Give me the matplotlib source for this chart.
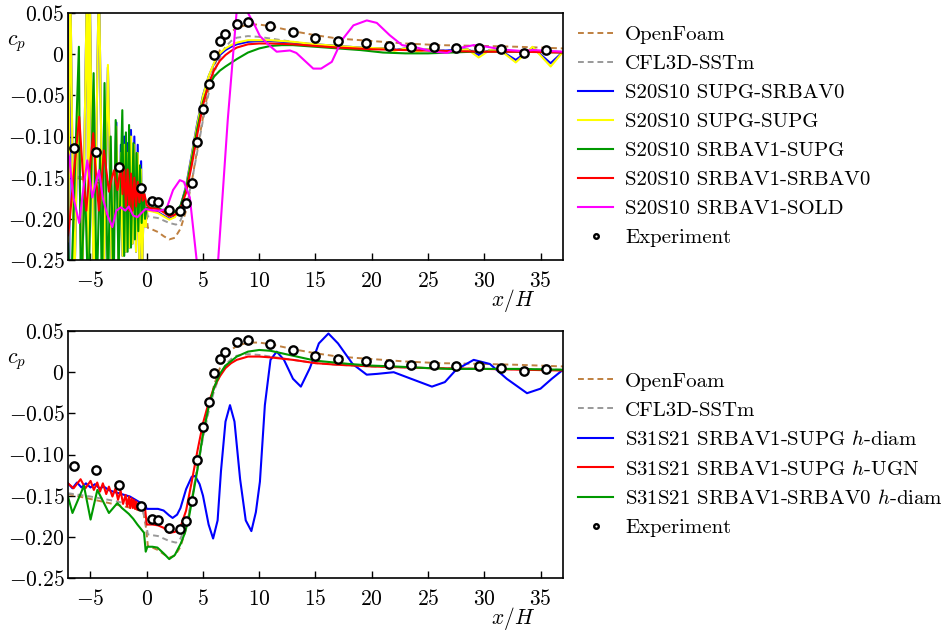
import numpy as np
import matplotlib
matplotlib.use('Agg')
import matplotlib.pyplot as plt

# pressure coefficient along the hump, x/H

# experiment (both panels)
exp_x = [-6.5, -4.5, -2.5, -0.5, 0.5, 1.0, 2.0, 3.0, 3.5, 4.0, 4.5, 5.0, 5.5, 6.0, 6.5, 7.0,
         8.0, 9.0, 11.0, 13.0, 15.0, 17.0, 19.5, 21.5, 23.5, 25.5, 27.5, 29.5, 31.5, 33.5, 35.5]
exp_cp = [-0.114, -0.119, -0.137, -0.162, -0.178, -0.180, -0.189, -0.191, -0.181, -0.157, -0.107,
          -0.066, -0.036, -0.001, 0.016, 0.025, 0.037, 0.039, 0.034, 0.027, 0.020, 0.016, 0.014,
          0.0105, 0.0085, 0.0085, 0.0077, 0.0077, 0.0057, 0.002, 0.0045]

# reference solvers (both panels)
of_x = [-7, -6, -5, -4, -3, -2, -1, -0.3, -0.05, 0.1, 0.5, 1, 1.5, 2, 2.5, 3, 3.5, 4, 4.5, 5,
        5.5, 6, 6.5, 7, 7.5, 8, 9, 10, 11, 13, 15, 17, 20, 23, 26, 30, 33, 37]
of_cp = [-0.148, -0.151, -0.154, -0.157, -0.160, -0.163, -0.166, -0.170, -0.190, -0.211, -0.213,
         -0.216, -0.221, -0.225, -0.223, -0.212, -0.190, -0.155, -0.115, -0.077, -0.043, -0.015,
         0.005, 0.018, 0.027, 0.032, 0.036, 0.036, 0.034, 0.028, 0.023, 0.019, 0.016, 0.013,
         0.011, 0.010, 0.009, 0.007]

cfl_x = [-7, -5, -3, -1, -0.3, -0.05, 0.1, 0.5, 1, 1.5, 2, 2.6, 3, 3.5, 4, 4.5, 5, 5.5, 6, 6.5,
         7, 7.5, 8, 9, 10, 11, 13, 15, 17, 20, 25, 30, 37]
cfl_cp = [-0.147, -0.151, -0.156, -0.162, -0.170, -0.185, -0.197, -0.198, -0.199, -0.202, -0.205,
          -0.207, -0.202, -0.185, -0.155, -0.118, -0.080, -0.048, -0.022, -0.004, 0.009, 0.016,
          0.020, 0.022, 0.021, 0.019, 0.015, 0.011, 0.009, 0.007, 0.005, 0.004, 0.003]

# top panel: S20S10 runs
supg_srbav0_x = [-7.0, -6.9, -6.8, -6.45, -6.1, -5.75, -5.3, -5.18, -5.08, -4.7, -4.25, -3.85,
                 -3.45, -3.1, -2.7, -2.5, -2.3, -2.15, -2.0, -1.85, -1.7, -1.55, -1.4, -1.25,
                 -1.1, -0.95, -0.8, -0.65, -0.5, -0.4, -0.25, -0.1, 0.0, 0.5, 1.0, 1.5, 2.0, 2.5,
                 3.0, 3.5, 4.0, 4.5, 5.0, 5.5, 6.0, 6.5, 7.0, 7.5, 8.0, 9.0, 10.0, 11.0, 13.0,
                 15.0, 17.0, 19.0, 21.0, 22.0, 23.0, 24.0, 25.0, 26.0, 27.5, 28.5, 29.5, 30.5,
                 31.5, 32.8, 34.3, 35.9, 37.0]
supg_srbav0_cp = [0.10, -0.30, 0.10, -0.30, -0.05, -0.30, 0.10, -0.30, 0.10, -0.30, 0.10, -0.30,
                  -0.016, -0.27, -0.083, -0.25, -0.110, -0.245, -0.100, -0.24, -0.108, -0.235,
                  -0.092, -0.23, -0.100, -0.24, -0.110, -0.26, -0.130, -0.26, -0.165, -0.21,
                  -0.188, -0.190, -0.192, -0.196, -0.200, -0.197, -0.185, -0.160, -0.122, -0.083,
                  -0.050, -0.027, -0.011, -0.001, 0.005, 0.009, 0.012, 0.015, 0.016, 0.016,
                  0.014, 0.012, 0.010, 0.008, 0.007, 0.005, 0.007, 0.004, 0.006, 0.004, 0.005,
                  0.006, -0.001, 0.005, 0.004, -0.007, 0.008, -0.011, 0.003]

supg_supg_x = [-7.0, -6.8, -6.45, -6.1, -5.75, -5.3, -5.18, -5.08, -4.7, -4.25, -3.85, -3.45,
               -3.1, -2.7, -2.5, -2.3, -2.15, -2.0, -1.85, -1.7, -1.55, -1.4, -1.25, -1.1, -0.95,
               -0.8, -0.65, -0.5, -0.4, -0.25, -0.1, 0.0, 0.5, 1.0, 1.5, 2.0, 2.5, 3.0, 3.5, 4.0,
               4.5, 5.0, 5.5, 6.0, 6.5, 7.0, 7.5, 8.0, 9.0, 10.0, 11.0, 13.0, 15.0, 17.0, 19.0,
               21.0, 22.0, 23.0, 24.0, 25.0, 26.0, 27.5, 28.5, 29.5, 30.5, 31.5, 32.8, 34.3,
               35.9, 37.0]
supg_supg_cp = [-0.30, 0.10, -0.30, -0.04, -0.30, 0.10, -0.30, 0.10, -0.30, 0.10, -0.30, -0.013,
                -0.27, -0.088, -0.25, -0.12, -0.245, -0.11, -0.24, -0.12, -0.235, -0.10, -0.23,
                -0.11, -0.24, -0.12, -0.26, -0.14, -0.26, -0.17, -0.21, -0.190, -0.191, -0.193,
                -0.197, -0.201, -0.198, -0.186, -0.162, -0.124, -0.085, -0.051, -0.027, -0.010,
                0.001, 0.007, 0.011, 0.014, 0.017, 0.017, 0.017, 0.015, 0.012, 0.010, 0.008,
                0.007, 0.004, 0.007, 0.003, 0.006, 0.003, 0.004, 0.006, -0.004, 0.005, 0.004,
                -0.010, 0.009, -0.015, 0.003]

srbav1_supg_x = [-7.0, -6.75, -6.03, -5.85, -5.5, -5.2, -4.72, -4.45, -4.15, -3.98, -3.75, -3.45,
                 -3.2, -2.95, -2.76, -2.5, -2.17, -2.0, -1.85, -1.7, -1.57, -1.4, -1.18, -1.05,
                 -0.9, -0.75, -0.6, -0.45, -0.3, -0.15, 0.0, 0.5, 1.0, 1.5, 2.0, 2.5, 3.0, 3.5,
                 4.0, 4.5, 5.0, 5.5, 6.0, 6.5, 7.0, 8.0, 9.0, 10.0, 11.0, 12.0, 13.0, 15.0, 17.0,
                 19.0, 21.0, 23.0, 25.0, 27.0, 29.0, 31.0, 34.0, 37.0]
srbav1_supg_cp = [-0.23, -0.30, 0.009, -0.30, -0.15, -0.30, -0.023, -0.30, -0.12, -0.30, -0.035,
                  -0.30, -0.10, -0.30, -0.08, -0.26, -0.068, -0.245, -0.095, -0.24, -0.086,
                  -0.235, -0.108, -0.225, -0.12, -0.215, -0.135, -0.205, -0.16, -0.20, -0.187,
                  -0.186, -0.187, -0.190, -0.193, -0.192, -0.184, -0.163, -0.128, -0.090, -0.058,
                  -0.038, -0.027, -0.020, -0.015, -0.006, 0.002, 0.007, 0.010, 0.011, 0.011,
                  0.009, 0.007, 0.005, 0.002, 0.001, 0.001, 0.002, 0.003, 0.003, 0.003, 0.002]

srbav1_srbav0_x = [-7.0, -6.9, -6.45, -6.0, -5.7, -5.37, -5.0, -4.75, -4.5, -4.25, -4.0, -3.8,
                   -3.6, -3.36, -3.1, -2.9, -2.75, -2.6, -2.45, -2.3, -2.15, -2.0, -1.85, -1.7,
                   -1.55, -1.4, -1.25, -1.1, -0.95, -0.8, -0.65, -0.5, -0.35, -0.2, 0.0, 0.3, 1.0,
                   1.5, 2.0, 2.5, 3.0, 3.5, 4.0, 4.5, 5.0, 5.5, 6.0, 6.5, 7.0, 7.5, 8.0, 9.0, 10.0,
                   11.0, 13.0, 15.0, 17.0, 20.0, 23.0, 26.0, 30.0, 33.0, 37.0]
srbav1_srbav0_cp = [-0.22, -0.21, -0.14, -0.076, -0.14, -0.19, -0.13, -0.096, -0.15, -0.19,
                    -0.15, -0.117, -0.14, -0.167, -0.15, -0.141, -0.155, -0.165, -0.15, -0.137,
                    -0.17, -0.14, -0.185, -0.14, -0.19, -0.145, -0.19, -0.15, -0.185, -0.155,
                    -0.18, -0.16, -0.178, -0.17, -0.183, -0.187, -0.188, -0.192, -0.197, -0.195,
                    -0.187, -0.168, -0.135, -0.097, -0.062, -0.036, -0.019, -0.008, -0.001, 0.004,
                    0.008, 0.012, 0.013, 0.013, 0.012, 0.010, 0.008, 0.006, 0.005, 0.004, 0.003,
                    0.003, 0.002]

srbav1_sold_x = [-7.0, -6.9, -6.5, -6.0, -5.6, -5.28, -4.84, -4.5, -4.24, -3.9, -3.5, -3.06, -2.7,
                 -2.3, -1.9, -1.6, -1.2, -0.83, -0.4, -0.1, 0.56, 1.2, 1.75, 2.34, 2.94, 3.3,
                 3.83, 4.42, 5.0, 5.5, 6.0, 6.35, 7.2, 7.98, 8.5, 9.0, 9.6, 10.06, 10.95, 11.55,
                 12.73, 13.3, 14.8, 15.5, 16.45, 17.34, 18.37, 19.56, 20.45, 21.6, 22.7, 24.0,
                 25.5, 26.7, 27.6, 29.06, 30.25, 31.7, 33.2, 34.4, 37.0]
srbav1_sold_cp = [-0.12, -0.125, -0.175, -0.205, -0.16, -0.129, -0.174, -0.155, -0.141, -0.175,
                  -0.195, -0.21, -0.19, -0.186, -0.19, -0.185, -0.196, -0.198, -0.192, -0.188,
                  -0.19, -0.19, -0.188, -0.165, -0.153, -0.155, -0.174, -0.248, -0.33, -0.36,
                  -0.32, -0.25, -0.08, 0.05, 0.065, 0.05, 0.035, 0.022, 0.01, 0.003, 0.0045,
                  0.0015, -0.0175, -0.0175, -0.0093, 0.017, 0.035, 0.041, 0.038, 0.023, 0.011,
                  0.008, 0.003, 0.0015, 0.007, 0.011, 0.009, 0.0055, 0.004, 0.005, 0.003]

# bottom panel: S31S21 runs
hdiam_supg_x = [-7.0, -6.6, -6.2, -5.8, -5.4, -5.0, -4.6, -4.2, -3.8, -3.4, -3.0, -2.5, -2.0,
                -1.5, -1.0, -0.5, -0.1, 0.0, 0.5, 1.0, 1.5, 2.0, 2.3, 2.7, 3.0, 3.5, 4.0, 4.3,
                4.7, 5.0, 5.5, 5.9, 6.3, 6.6, 7.0, 7.4, 7.8, 8.3, 8.8, 9.3, 9.7, 10.06, 10.5,
                11.0, 11.55, 12.2, 13.0, 13.7, 14.5, 15.3, 16.15, 17.0, 18.3, 19.55, 20.5, 21.95,
                23.5, 25.35, 26.5, 27.5, 29.06, 30.5, 32.0, 33.8, 35.0, 36.0, 37.0]
hdiam_supg_cp = [-0.135, -0.141, -0.134, -0.140, -0.135, -0.140, -0.136, -0.141, -0.139, -0.143,
                 -0.145, -0.147, -0.149, -0.151, -0.155, -0.159, -0.162, -0.166, -0.166, -0.166,
                 -0.168, -0.174, -0.177, -0.173, -0.165, -0.142, -0.127, -0.126, -0.136, -0.150,
                 -0.185, -0.202, -0.18, -0.12, -0.06, -0.04, -0.06, -0.13, -0.18, -0.193, -0.17,
                 -0.133, -0.04, 0.015, 0.025, 0.015, -0.008, -0.0175, 0.005, 0.035, 0.047, 0.035,
                 0.010, -0.003, -0.002, 0.0, -0.008, -0.0175, -0.012, 0.003, 0.015, 0.010,
                 -0.008, -0.0255, -0.020, -0.008, 0.003]

hugn_supg_x = [-7.0, -6.5, -5.88, -5.45, -4.99, -4.7, -4.4, -4.15, -3.9, -3.6, -3.36, -3.05,
               -2.77, -2.55, -2.32, -2.1, -1.88, -1.73, -1.58, -1.46, -1.34, -1.23, -1.13, -1.03,
               -0.93, -0.84, -0.75, -0.6, -0.4, -0.15, 0.0, 0.5, 1.0, 1.5, 2.0, 2.5, 3.0, 3.5,
               4.0, 4.5, 5.0, 5.5, 6.0, 6.5, 7.0, 7.5, 8.0, 9.0, 10.0, 11.0, 13.0, 15.0, 17.0,
               20.0, 25.0, 30.0, 37.0]
hugn_supg_cp = [-0.135, -0.141, -0.130, -0.141, -0.132, -0.143, -0.134, -0.145, -0.135, -0.148,
                -0.139, -0.151, -0.141, -0.155, -0.144, -0.160, -0.149, -0.163, -0.151, -0.165,
                -0.153, -0.165, -0.155, -0.166, -0.157, -0.167, -0.160, -0.165, -0.162, -0.165,
                -0.185, -0.185, -0.186, -0.189, -0.195, -0.194, -0.188, -0.168, -0.133, -0.096,
                -0.062, -0.037, -0.018, -0.005, 0.005, 0.011, 0.015, 0.019, 0.019, 0.018, 0.015,
                0.011, 0.009, 0.007, 0.005, 0.004, 0.002]

hdiam_srbav0_x = [-7.0, -6.6, -5.58, -4.99, -4.39, -3.36, -2.61, -2.2, -1.6, -1.2, -0.83, -0.24,
                  -0.09, 0.06, 0.5, 0.95, 1.5, 2.0, 2.5, 3.03, 3.4, 3.77, 4.1, 4.5, 5.0, 5.5,
                  6.0, 6.5, 7.0, 8.0, 9.0, 10.0, 11.0, 13.0, 15.0, 18.0, 20.0, 22.0, 25.0, 27.0,
                  30.0, 33.0, 37.0]
hdiam_srbav0_cp = [-0.151, -0.171, -0.138, -0.179, -0.143, -0.171, -0.159, -0.165, -0.172,
                   -0.178, -0.185, -0.195, -0.218, -0.212, -0.212, -0.213, -0.220, -0.227,
                   -0.222, -0.208, -0.195, -0.175, -0.150, -0.119, -0.075, -0.042, -0.018,
                   -0.002, 0.008, 0.019, 0.025, 0.027, 0.026, 0.020, 0.014, 0.010, 0.008, 0.007,
                   0.005, 0.004, 0.004, 0.004, 0.003]

top_runs = [
    (supg_srbav0_x, supg_srbav0_cp, '#0000ff', 'S20S10 SUPG-SRBAV0'),
    (supg_supg_x, supg_supg_cp, '#ffff00', 'S20S10 SUPG-SUPG'),
    (srbav1_supg_x, srbav1_supg_cp, '#009900', 'S20S10 SRBAV1-SUPG'),
    (srbav1_srbav0_x, srbav1_srbav0_cp, '#ff0000', 'S20S10 SRBAV1-SRBAV0'),
    (srbav1_sold_x, srbav1_sold_cp, '#ff00ff', 'S20S10 SRBAV1-SOLD'),
]
bottom_runs = [
    (hdiam_supg_x, hdiam_supg_cp, '#0000ff', r'S31S21 SRBAV1-SUPG $h$-diam'),
    (hugn_supg_x, hugn_supg_cp, '#ff0000', r'S31S21 SRBAV1-SUPG $h$-UGN'),
    (hdiam_srbav0_x, hdiam_srbav0_cp, '#009900', r'S31S21 SRBAV1-SRBAV0 $h$-diam'),
]

plt.rcParams['font.family'] = 'serif'
plt.rcParams['font.serif'] = ['cmr10']
plt.rcParams['mathtext.fontset'] = 'cm'
plt.rcParams['axes.formatter.use_mathtext'] = True
plt.rcParams['font.size'] = 15.5


def draw_panel(ax, runs):
    ax.plot(of_x, of_cp, color='#bf8040', lw=1.4, ls=(0, (3, 2)), label='OpenFoam')
    ax.plot(cfl_x, cfl_cp, color='#999999', lw=1.4, ls=(0, (3, 2)), label='CFL3D-SSTm')
    for xs, ys, c, name in runs:
        ax.plot(xs, ys, color=c, lw=1.5, label=name)
    ax.plot(exp_x, exp_cp, 'o', ms=6, mfc='white', mec='black', mew=1.7, label='Experiment',
            zorder=10)

    ax.set_xlim(-7, 37)
    ax.set_ylim(-0.25, 0.05)
    xt = [-5, 0, 5, 10, 15, 20, 25, 30, 35]
    ax.set_xticks(xt)
    ax.set_xticklabels(['$%d$' % v for v in xt])
    yt = [-0.25, -0.20, -0.15, -0.10, -0.05, 0, 0.05]
    ax.set_yticks(yt)
    ax.set_yticklabels(['$-0.25$', '$-0.20$', '$-0.15$', '$-0.10$', '$-0.05$', '$0$', '$0.05$'])
    ax.tick_params(direction='in', length=5, width=1, top=False, right=False)
    ax.tick_params(axis='x', pad=8)
    ax.tick_params(axis='y', pad=2.5)
    for s in ax.spines.values():
        s.set_linewidth(1.2)
    ax.text(0.9, -0.165, '$x/H$', transform=ax.transAxes, ha='center', va='center')
    ax.text(-0.104, 0.875, '$c_p$', transform=ax.transAxes, ha='center', va='center')
    ax.legend(loc='center left', bbox_to_anchor=(1.0, 0.5), frameon=False, fontsize=15,
              handlelength=1.68, handletextpad=0.58, labelspacing=0.5, borderaxespad=0.32,
              markerscale=0.55)


fig = plt.figure(figsize=(9.48, 6.32), dpi=100)
ax1 = fig.add_axes([0.0717, 0.5886, 0.5222, 0.3908])
ax2 = fig.add_axes([0.0717, 0.0854, 0.5222, 0.3908])
draw_panel(ax1, top_runs)
draw_panel(ax2, bottom_runs)

fig.savefig('out.png', dpi=100)
